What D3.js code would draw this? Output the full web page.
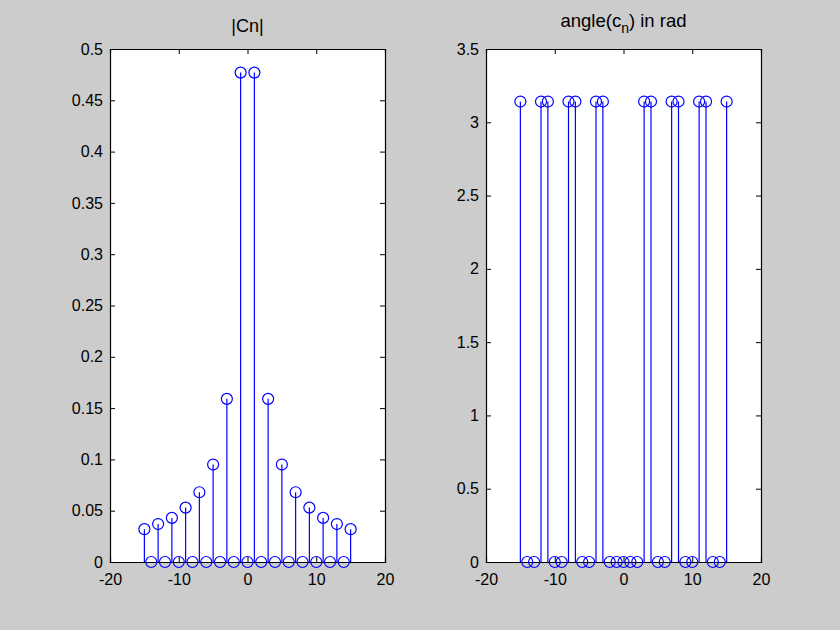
<!DOCTYPE html>
<html>
<head>
<meta charset="utf-8">
<script src="https://cdn.jsdelivr.net/npm/d3@7"></script>
<style>
  html, body { margin: 0; padding: 0; background: #cccccc; }
  svg { display: block; }
  text { font-family: "Liberation Sans", Arial, Helvetica, sans-serif; fill: #000; }
</style>
</head>
<body>
<svg id="chart" width="840" height="630"></svg>
<script>
// ---- data ----
const n = [-15,-14,-13,-12,-11,-10,-9,-8,-7,-6,-5,-4,-3,-2,-1,0,1,2,3,4,5,6,7,8,9,10,11,12,13,14,15];
const magnitude = [0.032,0,0.037,0,0.043,0,0.053,0,0.068,0,0.095,0,0.159,0,0.477,0,
                   0.477,0,0.159,0,0.095,0,0.068,0,0.053,0,0.043,0,0.037,0,0.032];
const angleRad = [3.1416,0,0,3.1416,3.1416,0,0,3.1416,3.1416,0,0,3.1416,3.1416,0,0,0,
                  0,0,3.1416,3.1416,0,0,3.1416,3.1416,0,0,3.1416,3.1416,0,0,3.1416];
const xTicks = [-20,-10,0,10,20];
const magTicks = [0,0.05,0.1,0.15,0.2,0.25,0.3,0.35,0.4,0.45,0.5];
const angTicks = [0,0.5,1,1.5,2,2.5,3,3.5];

const svg = d3.select("#chart");

function stemPlot(opts) {
  const {x0, x1, y0, y1, xDomain, yDomain, values, yTicks, title} = opts;
  const x = d3.scaleLinear().domain(xDomain).range([x0, x1]);
  const y = d3.scaleLinear().domain(yDomain).range([y1, y0]);
  const g = svg.append("g");

  g.append("rect").attr("x", x0).attr("y", y0).attr("width", x1 - x0).attr("height", y1 - y0)
    .attr("fill", "#ffffff");

  const data = n.map((d, i) => ({n: d, v: values[i]}));
  g.append("g").selectAll("line").data(data).join("line")
    .attr("x1", d => x(d.n)).attr("x2", d => x(d.n))
    .attr("y1", y(0)).attr("y2", d => y(d.v))
    .attr("stroke", "#0000ff").attr("stroke-width", 1.2);

  const tickLen = 5;
  const fmt = d => String(d);
  const axB = d3.axisBottom(x).tickValues(xTicks).tickSize(-tickLen).tickPadding(0).tickFormat(fmt);
  const axT = d3.axisTop(x).tickValues(xTicks).tickSize(-tickLen).tickFormat("");
  const axL = d3.axisLeft(y).tickValues(yTicks).tickSize(-tickLen).tickPadding(7).tickFormat(fmt);
  const axR = d3.axisRight(y).tickValues(yTicks).tickSize(-tickLen).tickFormat("");

  const gb = g.append("g").attr("transform", `translate(0,${y1})`).call(axB);
  const gt = g.append("g").attr("transform", `translate(0,${y0})`).call(axT);
  const gl = g.append("g").attr("transform", `translate(${x0},0)`).call(axL);
  const gr = g.append("g").attr("transform", `translate(${x1},0)`).call(axR);
  [gb, gt, gl, gr].forEach(a => {
    a.select(".domain").attr("stroke", "#000").attr("stroke-width", 1.2);
    a.selectAll(".tick line").attr("stroke", "#000").attr("stroke-width", 1);
    a.selectAll("text").style("font-size", "16px").attr("fill", "#000")
      .style("font-family", "'Liberation Sans', Arial, sans-serif");
  });
  gb.selectAll(".tick text").attr("y", 23).attr("dy", null);

  g.append("g").selectAll("circle").data(data).join("circle")
    .attr("cx", d => x(d.n)).attr("cy", d => y(d.v)).attr("r", 5.5)
    .attr("fill", "none").attr("stroke", "#0000ff").attr("stroke-width", 1.2);

  title(g, (x0 + x1) / 2);
}

stemPlot({
  x0: 110, x1: 385, y0: 49, y1: 562,
  xDomain: [-20, 20], yDomain: [0, 0.5],
  values: magnitude, yTicks: magTicks,
  title: (g, cx) => {
    g.append("text").attr("x", cx).attr("y", 32).attr("text-anchor", "middle")
      .style("font-size", "18px").text("|Cn|");
  }
});

stemPlot({
  x0: 486, x1: 761, y0: 49, y1: 562,
  xDomain: [-20, 20], yDomain: [0, 3.5],
  values: angleRad, yTicks: angTicks,
  title: (g, cx) => {
    const t = g.append("text").attr("x", cx).attr("y", 27).attr("text-anchor", "middle")
      .style("font-size", "18.5px");
    t.append("tspan").text("angle(c");
    t.append("tspan").attr("dy", 6).style("font-size", "14px").text("n");
    t.append("tspan").attr("dy", -6).text(") in rad");
  }
});
</script>
</body>
</html>
